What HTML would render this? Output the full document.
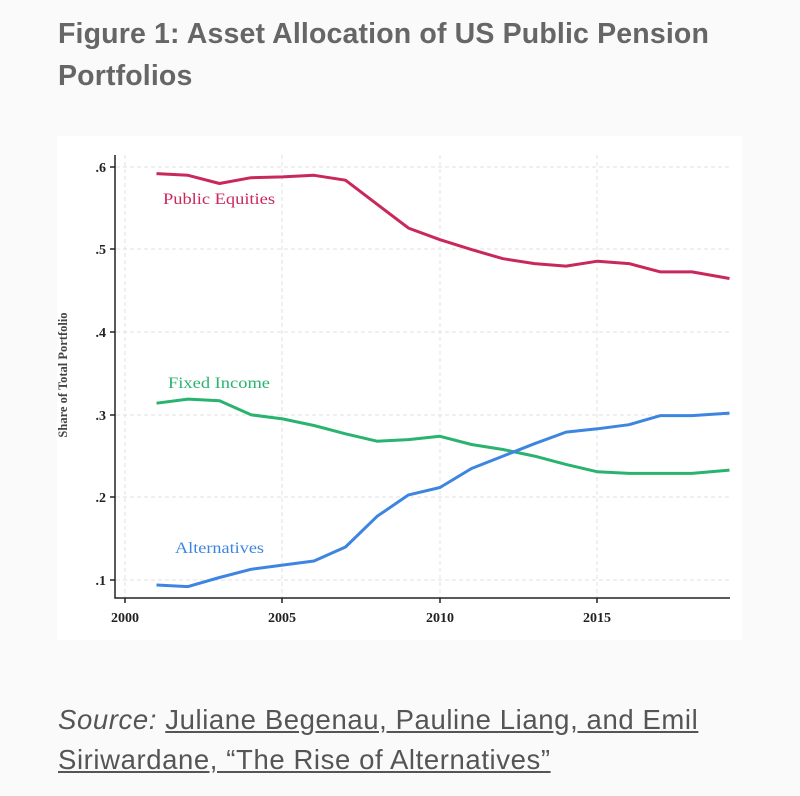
<!DOCTYPE html>
<html><head><style>
body{margin:0;background:#fafafa;width:800px;height:796px;overflow:hidden;font-family:"Liberation Sans",sans-serif}
h1{position:absolute;left:58px;top:13px;margin:0;font-size:28.5px;line-height:42px;color:#666;font-weight:bold;letter-spacing:0.15px}
.src{position:absolute;left:58px;top:700px;font-size:27.5px;line-height:40px;color:#555;letter-spacing:0.6px;white-space:nowrap}
.src u{text-decoration:underline}
</style></head><body>
<h1>Figure 1: Asset Allocation of US Public Pension<br>Portfolios</h1>
<svg style="position:absolute;left:0;top:0" width="800" height="796">
<rect x="57" y="136" width="685" height="504" fill="#fff"/>
<g stroke="#e2e2e2" stroke-dasharray="4,3" stroke-width="1">
<line x1="116" x2="730" y1="167" y2="167"/><line x1="116" x2="730" y1="249" y2="249"/>
<line x1="116" x2="730" y1="332" y2="332"/><line x1="116" x2="730" y1="415" y2="415"/>
<line x1="116" x2="730" y1="497" y2="497"/><line x1="116" x2="730" y1="580" y2="580"/>
<line x1="125" x2="125" y1="155" y2="597"/><line x1="282" x2="282" y1="155" y2="597"/>
<line x1="440" x2="440" y1="155" y2="597"/><line x1="597" x2="597" y1="155" y2="597"/>
</g>
<g stroke="#222" stroke-width="1.5" fill="none">
<path d="M115 155V598H730"/>
<path d="M110 167h5M110 249h5M110 332h5M110 415h5M110 497h5M110 580h5M125 598v5M282 598v5M440 598v5M597 598v5"/>
</g>
<g font-family="Liberation Serif,serif" font-size="14" font-weight="bold" fill="#222" text-anchor="end">
<text x="106" y="172">.6</text><text x="106" y="254">.5</text><text x="106" y="337">.4</text>
<text x="106" y="420">.3</text><text x="106" y="502">.2</text><text x="106" y="585">.1</text>
</g>
<g font-family="Liberation Serif,serif" font-size="14" font-weight="bold" fill="#222" text-anchor="middle">
<text x="125" y="622">2000</text><text x="282" y="622">2005</text><text x="440" y="622">2010</text><text x="597" y="622">2015</text>
</g>
<text transform="translate(67,375) rotate(-90)" font-family="Liberation Serif,serif" font-size="12.5" font-weight="bold" fill="#444" text-anchor="middle">Share of Total Portfolio</text>
<g fill="none" stroke-width="3" stroke-linejoin="round">
<polyline id="eq" stroke="#c8285a" points=""/>
<polyline id="fi" stroke="#2ab36e" points=""/>
<polyline id="al" stroke="#3d85e0" points=""/>
</g>
<g font-family="Liberation Serif,serif" font-size="16">
<text x="163" y="204" fill="#c8285a" textLength="112" lengthAdjust="spacingAndGlyphs">Public Equities</text>
<text x="168" y="388" fill="#2ab36e" textLength="102" lengthAdjust="spacingAndGlyphs">Fixed Income</text>
<text x="175" y="553" fill="#3d85e0" textLength="89" lengthAdjust="spacingAndGlyphs">Alternatives</text>
</g>
</svg>
<div class="src"><i>Source:</i> <u>Juliane Begenau, Pauline Liang, and Emil<br>Siriwardane, “The Rise of Alternatives”</u></div>
<script>
var d={eq:[.592,.590,.580,.587,.588,.590,.584,.555,.526,.512,.500,.489,.483,.480,.486,.483,.473,.473,.465],
fi:[.314,.319,.317,.300,.295,.287,.277,.268,.270,.274,.264,.258,.250,.240,.231,.229,.229,.229,.233],
al:[.094,.092,.103,.113,.118,.123,.140,.177,.203,.212,.235,.250,.265,.279,.283,.288,.299,.299,.302]};
for(var k in d){document.getElementById(k).setAttribute('points',d[k].map(function(v,i){return (156.5+31.5*i+(i==18?6:0))+','+(580-(v-0.1)*826).toFixed(1)}).join(' '));}
</script>
</body></html>
